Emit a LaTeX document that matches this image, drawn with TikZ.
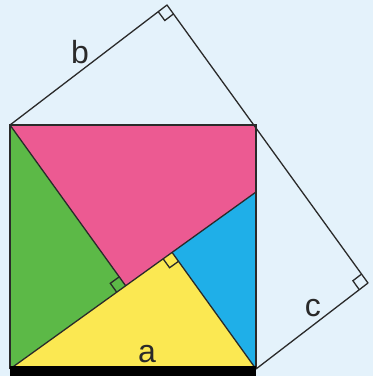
\documentclass[tikz,border=0pt]{standalone}
\usepackage{fontspec}
\setmainfont{Liberation Sans}
\usetikzlibrary{calc}
\definecolor{bg}{HTML}{E4F2FB}
\definecolor{pinkc}{HTML}{EC5A92}
\definecolor{greenc}{HTML}{5CB947}
\definecolor{bluec}{HTML}{1FAFE8}
\definecolor{yellowc}{HTML}{FBE852}
\definecolor{linec}{HTML}{2A2A2A}
\newcommand\ramark[3]{\draw[markline] ($(#1)!11pt!(#2)$) -- ($(#1)!11pt!(#2)+(#1)!11pt!(#3)-(#1)$) -- ($(#1)!11pt!(#3)$);}
\begin{document}
\begin{tikzpicture}[x=1pt,y=-1pt,
  thinline/.style={draw=linec, line width=1.3pt, line join=round},
  markline/.style={draw=linec, line width=1.3pt},
  sqline/.style={draw=linec, line width=1.8pt},
  lbl/.style={font=\fontsize{32}{32}\selectfont, text=linec, inner sep=0pt}]
\fill[bg] (0,0) rectangle (373,376);
\useasboundingbox (0,0) rectangle (373,376);
\coordinate (A) at (10,125);
\coordinate (B) at (256,125);
\coordinate (C) at (256,369);
\coordinate (D) at (10,369);
\coordinate (T) at (167,5);
\coordinate (R) at (368,283);
\coordinate (E) at (256,192);
\coordinate (G) at ($(D)!(A)!(E)$);
\coordinate (Y) at ($(D)!(C)!(E)$);
% colored regions
\fill[pinkc] (A) -- (B) -- (E) -- (G) -- cycle;
\fill[greenc] (A) -- (G) -- (D) -- cycle;
\fill[yellowc] (D) -- (C) -- (Y) -- cycle;
\fill[bluec] (Y) -- (E) -- (C) -- cycle;
% inner lines
\draw[thinline] (A) -- (G);
\draw[thinline] (D) -- (E);
\draw[thinline] (Y) -- (C);
% outer triangles
\draw[thinline] (A) -- (T) -- (R) -- (C);
% square border
\draw[sqline] (D) -- (A) -- (B) -- (C);
\fill[black] (10,366) rectangle (256,376);
% right angle marks
\ramark{T}{A}{B}
\ramark{R}{B}{C}
\ramark{G}{A}{D}
\ramark{Y}{D}{C}
% labels
\node[lbl] (lb) at (80,52) {b};
\node[lbl] (lc) at (313,308) {c};
\node[lbl] (la) at (147,354) {a};
\end{tikzpicture}
\end{document}
